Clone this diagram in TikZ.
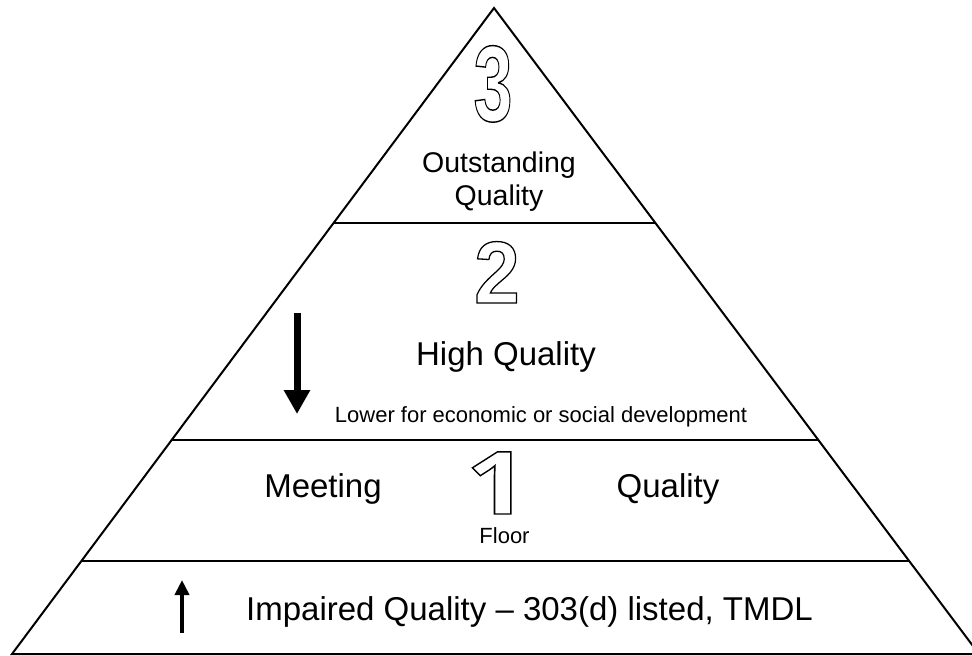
\documentclass[tikz,border=0pt]{standalone}
\usepackage{fontspec}
\usepackage{graphicx}
\setmainfont{Liberation Sans}
\newfontfamily\onefont{Open Sans}
\usetikzlibrary{calc,arrows.meta}

% glyphs drawn as outlines only (PDF text render mode 1)
\newcommand{\hollowtext}[1]{\special{pdf:literal direct 1 Tr 1.3 w}#1\special{pdf:literal direct 0 Tr}}

\tikzset{
  edge/.style={line width=2pt, line join=miter},
  lbl/.style={inner sep=0pt, anchor=base, text=black},
  big/.style={lbl, font=\fontsize{33}{38}\selectfont},
  mid/.style={lbl, font=\fontsize{28.5}{33}\selectfont},
  small/.style={lbl, font=\fontsize{22}{26}\selectfont},
  numeral/.style={lbl},
}

\begin{document}
\begin{tikzpicture}[x=1pt, y=-1pt]
  \useasboundingbox (0,0) rectangle (972,656);
  \fill[white] (0,0) rectangle (972,656);
  \clip (0,0) rectangle (972,656);

  % corners of the pyramid
  \coordinate (apex) at (494,8);
  \coordinate (bl) at (12,654);
  \coordinate (br) at (979,654);

  % tier boundaries on both flanks
  \coordinate (l1) at ($(apex)!0.3328!(bl)$);
  \coordinate (r1) at ($(apex)!0.3328!(br)$);
  \coordinate (l2) at ($(apex)!0.6687!(bl)$);
  \coordinate (r2) at ($(apex)!0.6687!(br)$);
  \coordinate (l3) at ($(apex)!0.8560!(bl)$);
  \coordinate (r3) at ($(apex)!0.8560!(br)$);

  \draw[edge] (apex) -- (bl) -- (br) -- cycle;
  \draw[edge] (l1) -- (r1);
  \draw[edge] (l2) -- (r2);
  \draw[edge] (l3) -- (r3);

  % tier 3
  \node[numeral, font=\bfseries\fontsize{100}{104}\selectfont] (n3) at (493,121)
    {\scalebox{0.70}[1.08]{\hollowtext{3}}};
  \node[mid] (t3a) at (499,172) {Outstanding};
  \node[mid] (t3b) at (499,205) {Quality};

  % tier 2
  \node[numeral, font=\bfseries\fontsize{88}{92}\selectfont] (n2) at (497,303)
    {\scalebox{0.93}[1.0]{\hollowtext{2}}};
  \node[big] (t2) at (506,365) {High Quality};
  \node[small] (t2s) at (541,422) {Lower for economic or social development};
  \coordinate (dtop) at (297,313);
  \coordinate (dbot) at (297,414);
  \draw[line width=7pt, -{Triangle[width=25pt, length=24pt]}] (dtop) -- (dbot);

  % tier 1
  \node[big] (t1a) at (323,497) {Meeting};
  \node[numeral, font=\onefont\bfseries\fontsize{87}{90}\selectfont] (n1) at (497,514)
    {\scalebox{1.25}[1.0]{\hollowtext{1}}};
  \node[big] (t1b) at (668,497) {Quality};
  \node[small] (t1s) at (504.5,543) {Floor};

  % impaired tier
  \coordinate (ubot) at (182,633);
  \coordinate (utop) at (182,580);
  \draw[line width=4pt, -{Triangle[width=14pt, length=15pt]}] (ubot) -- (utop);
  \node[big] (t0) at (529.5,620) {Impaired Quality -- 303(d) listed, TMDL};
\end{tikzpicture}
\end{document}
